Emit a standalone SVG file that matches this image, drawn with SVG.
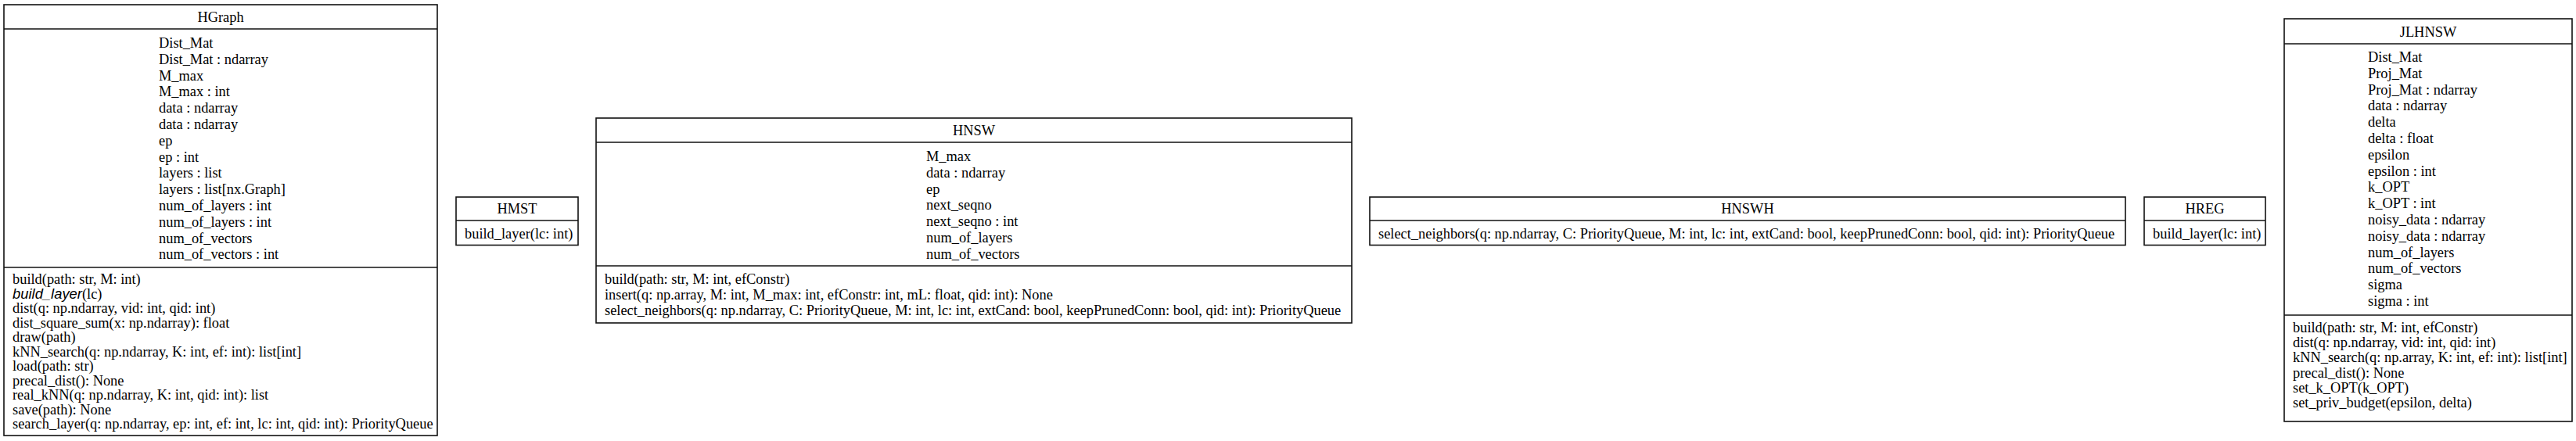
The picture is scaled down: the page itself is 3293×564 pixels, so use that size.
<svg xmlns="http://www.w3.org/2000/svg" width="3293" height="564" viewBox="0 0 3293 564">
<style>
.box{fill:#fff;stroke:#111;stroke-width:1.6}
.sep{stroke:#111;stroke-width:1.6}
.t{font-family:"Liberation Serif","Times New Roman",serif;font-size:18.4px;fill:#000}
.c{text-anchor:middle}
.it{font-family:"Liberation Sans",Arial,sans-serif;font-style:italic}
</style>
<rect x="0" y="0" width="3293" height="564" fill="#fff"/>
<g id="connectors"></g>

<g id="HGraph">
<rect class="box" x="5" y="6" width="554" height="551"/>
<line class="sep" x1="5" y1="37" x2="559" y2="37"/>
<line class="sep" x1="5" y1="342" x2="559" y2="342"/>
<text class="t c" x="282" y="28">HGraph</text>
<text class="t" x="203" y="61">Dist_Mat</text>
<text class="t" x="203" y="81.8">Dist_Mat : ndarray</text>
<text class="t" x="203" y="102.6">M_max</text>
<text class="t" x="203" y="123.4">M_max : int</text>
<text class="t" x="203" y="144.2">data : ndarray</text>
<text class="t" x="203" y="165">data : ndarray</text>
<text class="t" x="203" y="185.8">ep</text>
<text class="t" x="203" y="206.6">ep : int</text>
<text class="t" x="203" y="227.4">layers : list</text>
<text class="t" x="203" y="248.2">layers : list[nx.Graph]</text>
<text class="t" x="203" y="269">num_of_layers : int</text>
<text class="t" x="203" y="289.8">num_of_layers : int</text>
<text class="t" x="203" y="310.6">num_of_vectors</text>
<text class="t" x="203" y="331.4">num_of_vectors : int</text>
<text class="t" x="16" y="363">build(path: str, M: int)</text>
<text class="t" x="16" y="381.5"><tspan class="it">build_layer</tspan>(lc)</text>
<text class="t" x="16" y="400">dist(q: np.ndarray, vid: int, qid: int)</text>
<text class="t" x="16" y="418.5">dist_square_sum(x: np.ndarray): float</text>
<text class="t" x="16" y="437">draw(path)</text>
<text class="t" x="16" y="455.5">kNN_search(q: np.ndarray, K: int, ef: int): list[int]</text>
<text class="t" x="16" y="474">load(path: str)</text>
<text class="t" x="16" y="492.5">precal_dist(): None</text>
<text class="t" x="16" y="511">real_kNN(q: np.ndarray, K: int, qid: int): list</text>
<text class="t" x="16" y="529.5">save(path): None</text>
<text class="t" x="16" y="548">search_layer(q: np.ndarray, ep: int, ef: int, lc: int, qid: int): PriorityQueue</text>
</g>

<g id="HMST">
<rect class="box" x="583" y="252" width="156" height="61.5"/>
<line class="sep" x1="583" y1="282" x2="739" y2="282"/>
<text class="t c" x="661" y="273">HMST</text>
<text class="t" x="594" y="305">build_layer(lc: int)</text>
</g>

<g id="HNSW">
<rect class="box" x="762" y="151" width="966" height="262"/>
<line class="sep" x1="762" y1="182" x2="1728" y2="182"/>
<line class="sep" x1="762" y1="340" x2="1728" y2="340"/>
<text class="t c" x="1245" y="173">HNSW</text>
<text class="t" x="1184" y="206">M_max</text>
<text class="t" x="1184" y="226.8">data : ndarray</text>
<text class="t" x="1184" y="247.6">ep</text>
<text class="t" x="1184" y="268.4">next_seqno</text>
<text class="t" x="1184" y="289.2">next_seqno : int</text>
<text class="t" x="1184" y="310">num_of_layers</text>
<text class="t" x="1184" y="330.8">num_of_vectors</text>
<text class="t" x="773" y="362.5">build(path: str, M: int, efConstr)</text>
<text class="t" x="773" y="382.8">insert(q: np.array, M: int, M_max: int, efConstr: int, mL: float, qid: int): None</text>
<text class="t" x="773" y="403.1">select_neighbors(q: np.ndarray, C: PriorityQueue, M: int, lc: int, extCand: bool, keepPrunedConn: bool, qid: int): PriorityQueue</text>
</g>

<g id="HNSWH">
<rect class="box" x="1751" y="252" width="966" height="61.5"/>
<line class="sep" x1="1751" y1="282" x2="2717" y2="282"/>
<text class="t c" x="2234" y="273">HNSWH</text>
<text class="t" x="1762" y="305">select_neighbors(q: np.ndarray, C: PriorityQueue, M: int, lc: int, extCand: bool, keepPrunedConn: bool, qid: int): PriorityQueue</text>
</g>

<g id="HREG">
<rect class="box" x="2741" y="252" width="155" height="61.5"/>
<line class="sep" x1="2741" y1="282" x2="2896" y2="282"/>
<text class="t c" x="2818.5" y="273">HREG</text>
<text class="t" x="2752" y="305">build_layer(lc: int)</text>
</g>

<g id="JLHNSW">
<rect class="box" x="2920" y="24" width="368" height="515"/>
<line class="sep" x1="2920" y1="56" x2="3288" y2="56"/>
<line class="sep" x1="2920" y1="403" x2="3288" y2="403"/>
<text class="t c" x="3104" y="47">JLHNSW</text>
<text class="t" x="3027" y="79">Dist_Mat</text>
<text class="t" x="3027" y="99.8">Proj_Mat</text>
<text class="t" x="3027" y="120.6">Proj_Mat : ndarray</text>
<text class="t" x="3027" y="141.4">data : ndarray</text>
<text class="t" x="3027" y="162.2">delta</text>
<text class="t" x="3027" y="183">delta : float</text>
<text class="t" x="3027" y="203.8">epsilon</text>
<text class="t" x="3027" y="224.6">epsilon : int</text>
<text class="t" x="3027" y="245.4">k_OPT</text>
<text class="t" x="3027" y="266.2">k_OPT : int</text>
<text class="t" x="3027" y="287">noisy_data : ndarray</text>
<text class="t" x="3027" y="307.8">noisy_data : ndarray</text>
<text class="t" x="3027" y="328.6">num_of_layers</text>
<text class="t" x="3027" y="349.4">num_of_vectors</text>
<text class="t" x="3027" y="370.2">sigma</text>
<text class="t" x="3027" y="391">sigma : int</text>
<text class="t" x="2931" y="425">build(path: str, M: int, efConstr)</text>
<text class="t" x="2931" y="444.2">dist(q: np.ndarray, vid: int, qid: int)</text>
<text class="t" x="2931" y="463.4">kNN_search(q: np.array, K: int, ef: int): list[int]</text>
<text class="t" x="2931" y="482.6">precal_dist(): None</text>
<text class="t" x="2931" y="501.8">set_k_OPT(k_OPT)</text>
<text class="t" x="2931" y="521">set_priv_budget(epsilon, delta)</text>
</g>
</svg>
